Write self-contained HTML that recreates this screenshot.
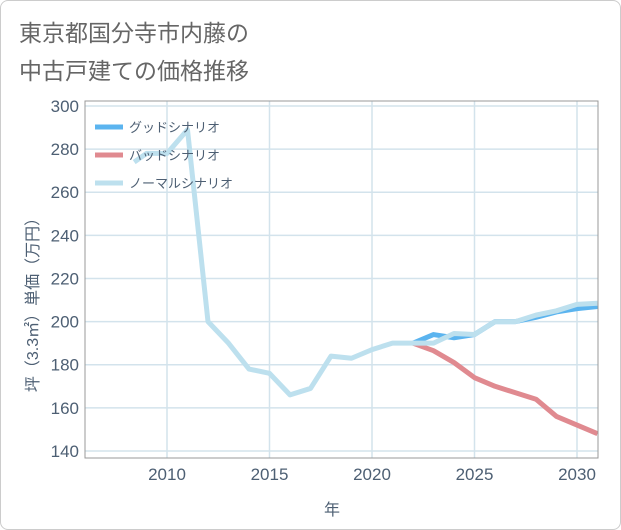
<!DOCTYPE html>
<html><head><meta charset="utf-8"><style>
body{margin:0;background:#fff;font-family:"Liberation Sans","Noto Sans CJK JP",sans-serif}
#wrap{position:relative;width:619px;height:528px;border:1px solid #ccc;border-radius:8px;overflow:hidden}
text{font-family:"Liberation Sans","Noto Sans CJK JP",sans-serif}
</style></head><body>
<div id="wrap">
<svg id="chart" width="621" height="530">
<text x="18" y="40" font-size="23" fill="#666">東京都国分寺市内藤の</text>
<text x="18" y="78" font-size="23" fill="#666">中古戸建ての価格推移</text>
<g id="grid"></g><g id="series"></g><g id="ticks"></g>
<rect x="84" y="100" width="513" height="357" fill="none" stroke="#999" stroke-width="1"/>
<text x="331" y="514" font-size="16" fill="#4d5f73" text-anchor="middle">年</text>
<text transform="translate(37,300) rotate(-90)" font-size="16" fill="#4d5f73" text-anchor="middle">坪（3.3㎡）単価（万円）</text>
<g id="legend"></g>
</svg></div>
<script>
const years=[2008.4,2009,2010,2011,2012,2013,2014,2015,2016,2017,2018,2019,2020,2021,2022,2023,2024,2025,2026,2027,2028,2029,2030,2031];
const normalVals=[274,278,278,289,200,190,178,176,166,169,184,183,187,190,190,190,194.5,194,200,200,203,205,208,208.5];
const goodYears=[2022,2023,2024,2025,2026,2027,2028,2029,2030,2031];
const goodVals=[190,194,192.5,194,200,200,202,204.5,206,207];
const badVals=[190,186.5,181,174,170,167,164,156,152,148];
const yTicks=[140,160,180,200,220,240,260,280,300];
const xTicks=[2010,2015,2020,2025,2030];
const X=y=>166+(y-2010)*20.5;
const Y=v=>105+(300-v)*2.156;
const NS='http://www.w3.org/2000/svg';
function mk(t,a,p){const e=document.createElementNS(NS,t);for(const k in a)e.setAttribute(k,a[k]);p.appendChild(e);return e;}
const grid=document.getElementById('grid'),ticks=document.getElementById('ticks'),ser=document.getElementById('series'),leg=document.getElementById('legend');
yTicks.forEach(v=>{const l=mk('line',{x1:84,x2:597,y1:Y(v),y2:Y(v),stroke:'#d3e3ec','stroke-width':1.5},grid);


const t=mk('text',{x:78,y:Y(v)+6,'font-size':17,fill:'#4d5f73','text-anchor':'end'},ticks);t.textContent=v;

});
xTicks.forEach(y=>{const l=mk('line',{x1:X(y),x2:X(y),y1:100,y2:457,stroke:'#d3e3ec','stroke-width':1.5},grid);


const t=mk('text',{x:X(y),y:479,'font-size':17,fill:'#4d5f73','text-anchor':'middle'},ticks);t.textContent=y;

});
function line(xs,vs,c,name){const p=mk('polyline',{points:xs.map((x,i)=>X(x)+','+Y(vs[i])).join(' '),fill:'none',stroke:c,'stroke-width':5,'stroke-linejoin':'round'},ser);

}
line(goodYears,badVals,'#e08a90','bad-scenario-line');
line(goodYears,goodVals,'#5bb4ef','good-scenario-line');
line(years,normalVals,'#bde0ee','normal-scenario-line');
const items=[['グッドシナリオ','#5bb4ef'],['バッドシナリオ','#e08a90'],['ノーマルシナリオ','#bde0ee']];
items.forEach((it,i)=>{const y=126+i*28;const l=mk('line',{x1:94,x2:122,y1:y,y2:y,stroke:it[1],'stroke-width':5},leg);


const t=mk('text',{x:128,y:y+5,'font-size':13,fill:'#4d5f73'},leg);t.textContent=it[0];

});
</script>
</body></html>
